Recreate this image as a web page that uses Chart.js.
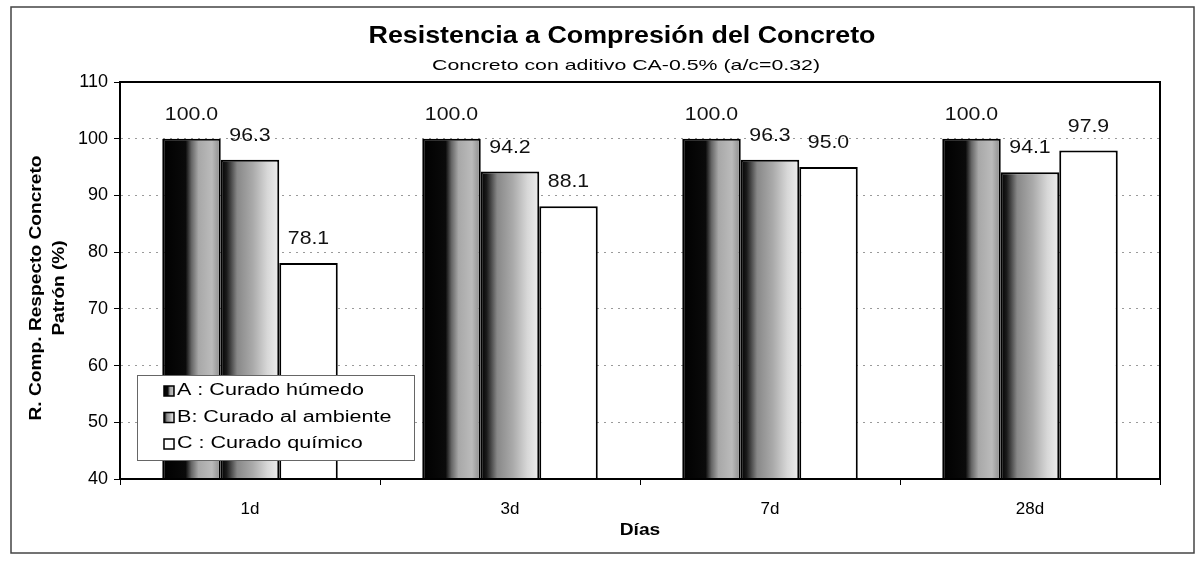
<!DOCTYPE html>
<html>
<head>
<meta charset="utf-8">
<script src="https://cdn.jsdelivr.net/npm/chart.js@4/dist/chart.umd.min.js"></script>
<style>
  html, body { margin: 0; padding: 0; background: #fff; }
  #wrap { position: relative; width: 1202px; height: 561px; }
  canvas { display: block; }
</style>
</head>
<body>
<div id="wrap"><canvas id="c" width="1202" height="561"></canvas></div>
<script>
const categories = ['1d', '3d', '7d', '28d'];
const seriesNames = ['A : Curado húmedo', 'B: Curado al ambiente', 'C : Curado químico'];
const seriesA = [100.0, 100.0, 100.0, 100.0];
const seriesB = [96.3, 94.2, 96.3, 94.1];
const seriesC = [78.1, 88.1, 95.0, 97.9];
const yTicks = [40, 50, 60, 70, 80, 90, 100, 110];
const titleText = 'Resistencia a Compresión del Concreto';
const subtitleText = 'Concreto con aditivo CA-0.5% (a/c=0.32)';
const xTitle = 'Días';
const yTitle = ['R. Comp. Respecto Concreto', 'Patrón (%)'];

const FONT = '"Liberation Sans", Arial, sans-serif';

// draw text horizontally stretched by factor sx (scan looks wider than normal type)
function wText(ctx, text, x, y, sx) {
  ctx.save();
  ctx.translate(x, y);
  ctx.scale(sx, 1);
  ctx.fillText(text, 0, 0);
  ctx.restore();
}

function gradStops(idx) {
  if (idx === 0) return [[0, '#000'], [0.4, '#0a0a0a'], [0.5, '#666'], [0.62, '#a8a8a8'], [0.85, '#bbb'], [1, '#8a8a8a']];
  if (idx === 1) return [[0, '#000'], [0.1, '#1a1a1a'], [0.28, '#888'], [0.55, '#aaa'], [0.8, '#d8d8d8'], [1, '#eee']];
  return [[0, '#fff'], [1, '#fff']];
}

const barStyle = {
  id: 'barStyle',
  beforeDatasetsDraw(chart) {
    const ctx = chart.ctx;
    chart.data.datasets.forEach((ds, di) => {
      const meta = chart.getDatasetMeta(di);
      meta.data.forEach(el => {
        const g = ctx.createLinearGradient(el.x - el.width / 2, 0, el.x + el.width / 2, 0);
        gradStops(di).forEach(s => g.addColorStop(s[0], s[1]));
        el.options.backgroundColor = g;
      });
    });
  },
  afterDatasetsDraw(chart) {
    const ctx = chart.ctx;
    ctx.save();
    ctx.fillStyle = '#111';
    ctx.font = '19px ' + FONT;
    ctx.textAlign = 'center';
    ctx.textBaseline = 'middle';
    chart.data.datasets.forEach((ds, di) => {
      const meta = chart.getDatasetMeta(di);
      meta.data.forEach((el, i) => {
        wText(ctx, ds.data[i].toFixed(1), el.x, el.y - 24, 1.12);
      });
    });
    ctx.restore();
  },
  afterDraw(chart) {
    const ctx = chart.ctx;
    const a = chart.chartArea;
    ctx.save();
    // plot border
    ctx.strokeStyle = '#000';
    ctx.lineWidth = 2;
    ctx.strokeRect(a.left, a.top, a.right - a.left, a.bottom - a.top);
    // outer frame
    ctx.strokeStyle = '#444';
    ctx.lineWidth = 1.5;
    ctx.strokeRect(11, 7, 1183, 546);
    // titles
    ctx.fillStyle = '#000';
    ctx.textAlign = 'center';
    ctx.textBaseline = 'middle';
    ctx.font = 'bold 24px ' + FONT;
    wText(ctx, titleText, 622, 36, 507 / ctx.measureText(titleText).width);
    ctx.font = '15px ' + FONT;
    wText(ctx, subtitleText, 626, 66, 388 / ctx.measureText(subtitleText).width);
    ctx.font = 'bold 16px ' + FONT;
    wText(ctx, xTitle, 640, 531, 1.2);
    // y title
    ctx.save();
    ctx.translate(36, 288);
    ctx.rotate(-Math.PI / 2);
    ctx.font = 'bold 17px ' + FONT;
    wText(ctx, yTitle[0], 0, 0, 265 / ctx.measureText(yTitle[0]).width);
    wText(ctx, yTitle[1], 0, 23, 1.12);
    ctx.restore();
    // legend
    const lx = 137, ly = 375, lw = 277, lh = 85;
    ctx.fillStyle = '#fff';
    ctx.fillRect(lx, ly, lw, lh);
    ctx.strokeStyle = '#666';
    ctx.lineWidth = 1;
    ctx.strokeRect(lx + 0.5, ly + 0.5, lw, lh);
    ctx.font = '16px ' + FONT;
    ctx.textAlign = 'left';
    const legScale = 187 / ctx.measureText(seriesNames[0]).width;
    seriesNames.forEach((name, i) => {
      const y = ly + 16 + i * 26.5;
      const sx = 164, sw = 10;
      const g = ctx.createLinearGradient(sx, 0, sx + sw, 0);
      gradStops(i).forEach(s => g.addColorStop(s[0], s[1]));
      ctx.fillStyle = g;
      ctx.fillRect(sx, y - sw / 2, sw, sw);
      ctx.strokeStyle = '#000';
      ctx.lineWidth = 1.5;
      ctx.strokeRect(sx, y - sw / 2, sw, sw);
      ctx.fillStyle = '#000';
      wText(ctx, name, 177, y, legScale);
    });
    ctx.restore();
  }
};

const bgPlugin = {
  id: 'bg',
  beforeDraw(chart) {
    const ctx = chart.ctx;
    ctx.save();
    ctx.fillStyle = '#fff';
    ctx.fillRect(0, 0, chart.width, chart.height);
    ctx.restore();
  }
};

const mkDs = (label, data) => ({
  label, data,
  backgroundColor: () => '#888',
  borderColor: '#000',
  borderWidth: 2,
  borderSkipped: 'bottom',
  categoryPercentage: 0.675,
  barPercentage: 1.0
});

new Chart(document.getElementById('c'), {
  type: 'bar',
  data: {
    labels: categories,
    datasets: [mkDs(seriesNames[0], seriesA), mkDs(seriesNames[1], seriesB), mkDs(seriesNames[2], seriesC)]
  },
  options: {
    responsive: false,
    animation: false,
    layout: { padding: { left: 0, top: 82, right: 42, bottom: 0 } },
    plugins: { legend: { display: false }, title: { display: false }, tooltip: { enabled: false } },
    scales: {
      x: {
        afterFit: s => { s.height = 82; },
        grid: { offset: true, drawOnChartArea: false, tickLength: 6, color: '#000', tickColor: '#000' },
        border: { color: '#000', width: 2 },
        ticks: { color: '#000', font: { family: FONT, size: 17 }, padding: 14 }
      },
      y: {
        min: 40, max: 110,
        afterFit: s => { s.width = 120; },
        afterBuildTicks: s => { s.ticks = yTicks.map(v => ({ value: v })); },
        grid: { color: '#9a9a9a', tickColor: '#000', tickLength: 6, lineWidth: 1 },
        border: { color: '#000', width: 2, dash: [2, 5] },
        ticks: { color: '#000', font: { family: FONT, size: 18 }, padding: 6 }
      }
    }
  },
  plugins: [bgPlugin, barStyle]
});
</script>
</body>
</html>
